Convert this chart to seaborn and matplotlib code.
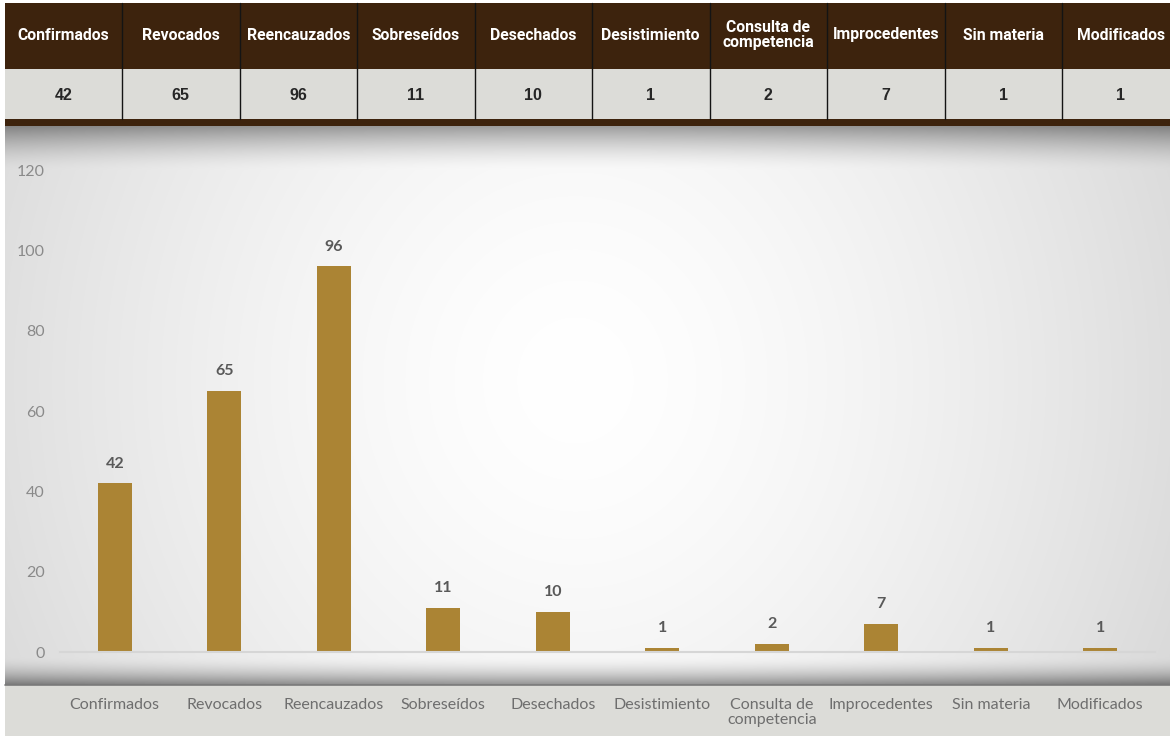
import numpy as np
import matplotlib
matplotlib.use("Agg")
import matplotlib.pyplot as plt
import seaborn as sns

# Data
categories = ["Confirmados", "Revocados", "Reencauzados", "Sobreseídos", "Desechados",
              "Desistimiento", "Consulta de competencia", "Improcedentes", "Sin materia",
              "Modificados"]
values = [42, 65, 96, 11, 10, 1, 2, 7, 1, 1]
header_labels = ["Confirmados", "Revocados", "Reencauzados", "Sobreseídos", "Desechados",
                 "Desistimiento", "Consulta de\ncompetencia", "Improcedentes", "Sin materia",
                 "Modificados"]
axis_labels = ["Confirmados", "Revocados", "Reencauzados", "Sobreseídos", "Desechados",
               "Desistimiento", "Consulta de\ncompetencia", "Improcedentes", "Sin materia",
               "Modificados"]
yticks = [0, 20, 40, 60, 80, 100, 120]

BROWN = "#3d230d"
CELL = "#dcdcd8"
BAR = "#ab8434"

sns.set_theme(style="white")
plt.rcParams["font.family"] = ["Lato", "DejaVu Sans"]

W, H = 1170, 736
fig = plt.figure(figsize=(W / 100, H / 100), dpi=100)
fig.patch.set_facecolor("white")

# background canvas in pixel coordinates
bg = fig.add_axes([0, 0, 1, 1])
bg.set_xlim(0, W)
bg.set_ylim(H, 0)
bg.axis("off")

yy, xx = np.mgrid[0:H, 0:W].astype(float)
r = np.sqrt(((xx - 575) / 600) ** 2 + ((yy - 380) / 650) ** 2)
v = 1 - 0.13 * r ** 1.5
# top shadow
top = np.clip((yy - 126) / 44, 0, 1)
v = v - 0.35 * (1 - top) ** 1.6
# bottom shadow
bot = np.clip((684 - yy) / 28, 0, 1)
v = v - 0.38 * (1 - bot) ** 1.8
v = np.clip(v, 0, 1)
img = np.ones((H, W, 3))
mask = (yy >= 126) & (yy < 685) & (xx >= 5)
for c in range(3):
    img[..., c] = np.where(mask, v, 1.0)
bg.imshow(img, extent=(0, W, H, 0), aspect="auto", interpolation="bilinear", zorder=0)

# lower label band
bg.add_patch(plt.Rectangle((5, 685), W - 5, H - 685, color=CELL, lw=0, zorder=1))
bg.plot([5, W], [685, 685], color="#7a7a7a", lw=1.2, zorder=2)

# summary table on top
col_w = 117.5
x0 = 4.5
bg.add_patch(plt.Rectangle((5, 3), W - 5, 66, color=BROWN, lw=0, zorder=1))
bg.add_patch(plt.Rectangle((5, 69), W - 5, 50, color=CELL, lw=0, zorder=1))
bg.add_patch(plt.Rectangle((5, 119), W - 5, 7, color=BROWN, lw=0, zorder=1))
for i, (lab, val) in enumerate(zip(header_labels, values)):
    cx = x0 + col_w * (i + 0.5)
    bg.text(cx, 35, lab, ha="center", va="center", color="white", fontsize=11.3,
            fontweight="bold", family=["Roboto", "DejaVu Sans"], linespacing=0.95, zorder=3)
    bg.text(cx, 95, str(val), ha="center", va="center", color="#262626", fontsize=11.5,
            fontweight="bold", family=["Liberation Sans", "DejaVu Sans"], zorder=3)
    if i > 0:
        xs = x0 + col_w * i
        bg.plot([xs, xs], [3, 119], color="#141414", lw=1.0, zorder=3)

# bar chart
ax = fig.add_axes([60 / W, 1 - 652 / H, 1095 / W, (652 - 170) / H])
ax.patch.set_alpha(0)
sns.barplot(x=categories, y=values, color=BAR, width=0.31, saturation=1,
            linewidth=0, ax=ax)
ax.set_ylim(0, 120)
ax.set_xlim(-0.5, len(categories) - 0.5)
ax.set_yticks(yticks)
ax.set_xticks(range(len(categories)))
ax.set_xticklabels(axis_labels, fontsize=11.5, color="#6e6e6e", linespacing=1.1)
ax.tick_params(axis="x", length=0, pad=33)
ax.tick_params(axis="y", length=0, pad=11, labelsize=11.5, labelcolor="#8a8a8a")
for s in ["top", "right", "left"]:
    ax.spines[s].set_visible(False)
ax.spines["bottom"].set_color("#d6d6d6")
ax.spines["bottom"].set_linewidth(1.5)
ax.set_xlabel("")
ax.set_ylabel("")
ax.bar_label(ax.containers[0], padding=9, fontsize=11.5, fontweight="bold", color="#595959")

fig.savefig("out.png", dpi=100)
